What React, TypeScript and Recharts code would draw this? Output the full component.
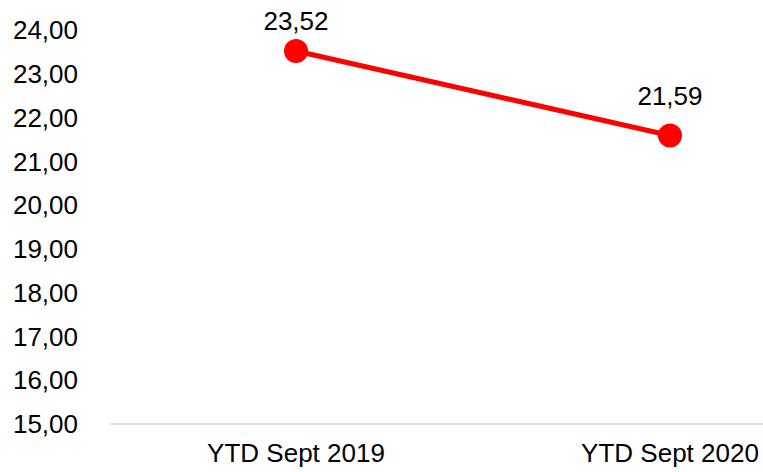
import { LineChart, Line, XAxis, YAxis, LabelList } from 'recharts'

const categories = ['YTD Sept 2019', 'YTD Sept 2020']
const values = [23.52, 21.59]
const yTicks = [15, 16, 17, 18, 19, 20, 21, 22, 23, 24]

const data = categories.map((name, i) => ({ name, value: values[i] }))

const fmt = (v: number) => v.toFixed(2).replace('.', ',')

const FONT = '"Liberation Sans", Arial, sans-serif'

const renderLabel = (props: any) => {
  const { x, y, value, index } = props
  return (
    <text
      x={x}
      y={y - (index === 0 ? 30 : 40)}
      textAnchor="middle"
      dominantBaseline="central"
      fontSize={26}
      fontFamily={FONT}
      fill="#000"
    >
      {fmt(value)}
    </text>
  )
}

export default function App() {
  return (
    <div style={{ position: 'absolute', left: 0, top: 0, width: 763, height: 472, background: '#fff', overflow: 'hidden' }}>
      <LineChart
        width={763}
        height={472}
        data={data}
        margin={{ top: 30, right: 0, bottom: 0, left: 0 }}
      >
        <XAxis
          dataKey="name"
          height={48}
          padding={{ left: 186, right: 93 }}
          axisLine={{ stroke: '#d9d9d9', strokeWidth: 1.5 }}
          tickLine={false}
          tickSize={0}
          tickMargin={20}
          tick={{ fontSize: 26, fontFamily: FONT, fill: '#000' }}
          interval={0}
        />
        <YAxis
          width={110}
          domain={[15, 24]}
          ticks={yTicks}
          interval={0}
          axisLine={false}
          tickLine={false}
          tickSize={0}
          tickMargin={32}
          tickFormatter={fmt}
          tick={{ fontSize: 26, fontFamily: FONT, fill: '#000' }}
        />
        <Line
          type="linear"
          dataKey="value"
          stroke="#ff0000"
          strokeWidth={5}
          dot={{ r: 12, fill: '#ff0000', stroke: 'none' }}
          activeDot={false}
          isAnimationActive={false}
        >
          <LabelList dataKey="value" content={renderLabel} />
        </Line>
      </LineChart>
    </div>
  )
}
